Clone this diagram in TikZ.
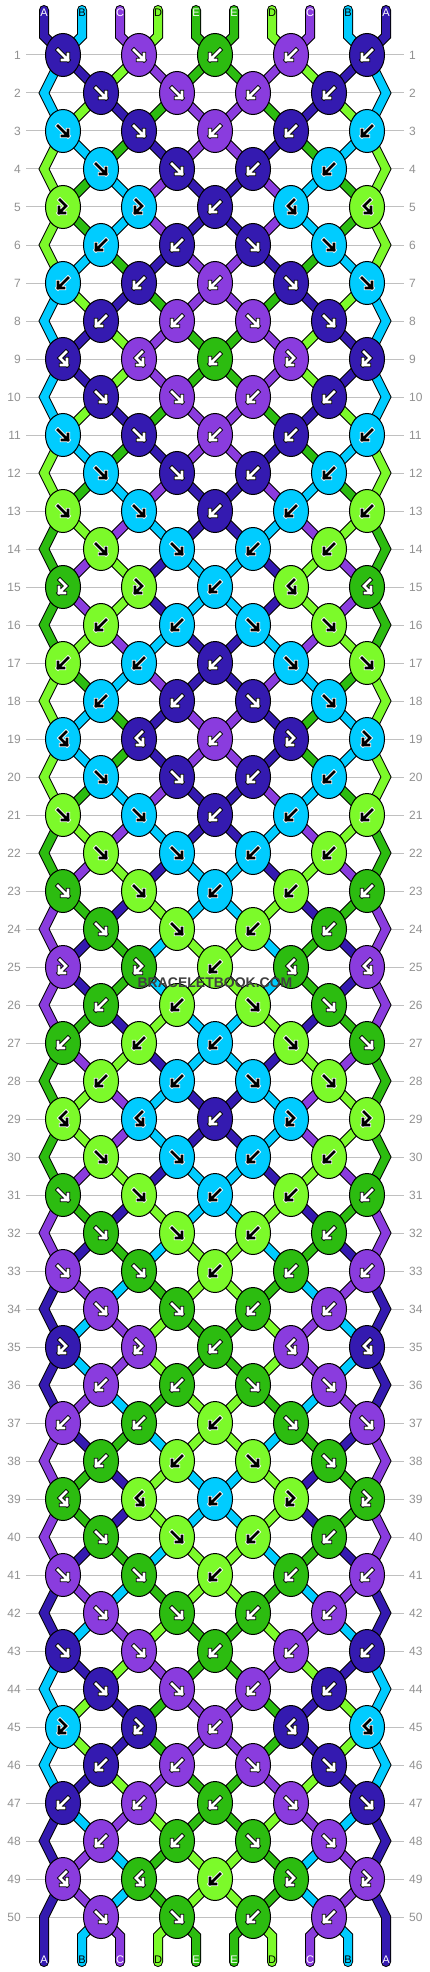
\documentclass[tikz,border=0pt]{standalone}
\usepackage{fontspec}
\setmainfont{Liberation Sans}
\usetikzlibrary{shapes.geometric}
\definecolor{cA}{RGB}{52,26,176}
\definecolor{cB}{RGB}{0,204,255}
\definecolor{cC}{RGB}{138,60,222}
\definecolor{cD}{RGB}{124,250,42}
\definecolor{cE}{RGB}{44,188,16}
\definecolor{gridgray}{RGB}{192,192,192}
\definecolor{numgray}{RGB}{145,145,145}
\definecolor{wmgray}{RGB}{64,64,64}
\pgfdeclarelayer{grid}\pgfdeclarelayer{outl}\pgfdeclarelayer{fill}
\pgfsetlayers{grid,outl,fill,main}
\def\glA{white}\def\glB{black}\def\glC{white}\def\glD{black}\def\glE{white}
\def\goA{black}\def\goB{white}\def\goC{black}\def\goD{white}\def\goE{black}
\def\dt#1#2#3#4#5#6{%
 \expandafter\def\csname kt#1-1\endcsname{#2}%
 \expandafter\def\csname kt#1-2\endcsname{#3}%
 \expandafter\def\csname kt#1-3\endcsname{#4}%
 \expandafter\def\csname kt#1-4\endcsname{#5}%
 \expandafter\def\csname kt#1-5\endcsname{#6}}
\dt{0}{f}{f}{b}{b}{b}
\dt{1}{f}{f}{b}{b}{x}
\dt{2}{f}{f}{b}{b}{b}
\dt{3}{f}{f}{b}{b}{x}
\dt{4}{F}{F}{b}{B}{B}
\dt{5}{b}{b}{f}{f}{x}
\dt{6}{b}{b}{b}{f}{f}
\dt{7}{b}{b}{f}{f}{x}
\dt{8}{B}{B}{b}{F}{F}
\dt{9}{f}{f}{b}{b}{x}
\def\setth#1#2{\expandafter\xdef\csname th#1\endcsname{#2}}
\setth{1}{A}\setth{2}{B}\setth{3}{C}\setth{4}{D}\setth{5}{E}
\setth{6}{E}\setth{7}{D}\setth{8}{C}\setth{9}{B}\setth{10}{A}
\def\gpf#1{\draw[#1] (-5,-5) -- (5,5) (-1,5) -- (5,5) -- (5,-1);}
\def\gpb#1{\draw[#1] (5,-5) -- (-5,5) (1,5) -- (-5,5) -- (-5,-1);}
\def\gpF#1{\draw[#1] (-3,-7) -- (3,-1) -- (-4,6) (2,6) -- (-4,6) -- (-4,0);}
\def\gpB#1{\draw[#1] (3,-7) -- (-3,-1) -- (4,6) (-2,6) -- (4,6) -- (4,0);}
\def\glyph#1#2#3{%
 \csname gp#1\endcsname{line width=4.4pt,color=#3,line cap=rect,line join=miter}%
 \csname gp#1\endcsname{line width=2.6pt,color=#2,line cap=rect,line join=miter}}
\gdef\Aout{}\gdef\Afill{}\gdef\Aknots{}
\def\addthread#1#2{%
 \xdef\Aout{\unexpanded\expandafter{\Aout}\noexpand\draw[thout] #2;}%
 \xdef\Afill{\unexpanded\expandafter{\Afill}\noexpand\draw[thfill,color=c#1] #2;}}
\tikzset{knot/.style={ellipse,draw=black,line width=1pt,minimum width=35pt,minimum height=43pt,inner sep=0pt},
 thout/.style={line width=10pt,black,line cap=round,line join=miter},
 thfill/.style={line width=8pt,line cap=round,line join=miter},
 rownum/.style={text=numgray,font=\fontsize{12}{14}\selectfont,inner sep=0pt},
 endlabel/.style={font=\fontsize{11}{13}\selectfont,inner sep=0pt}}
\begin{document}
\begin{tikzpicture}[x=1pt,y=-1pt]
\useasboundingbox (0,0) rectangle (430,1972);
% background, grid lines and row numbers
\begin{pgfonlayer}{grid}
\fill[white] (0,0) rectangle (430,1972);
\foreach \rw in {1,...,50}{%
 \pgfmathtruncatemacro{\yy}{55+38*(\rw-1)}%
 \draw[gridgray,line width=1pt] (26,\yy) -- (404,\yy);
 \node[rownum,anchor=east] (rl-\rw) at (21,\yy) {\rw};
 \node[rownum,anchor=west] (rr-\rw) at (409,\yy) {\rw};
}
\end{pgfonlayer}
% top ends
\foreach \ii in {1,...,10}{%
 \pgfmathtruncatemacro{\xx}{44+38*(\ii-1)}%
 \coordinate (tt-\ii) at (\xx,10);
 \coordinate (tb-\ii) at (\xx,36);
 \expandafter\xdef\csname pp\ii\endcsname{(tt-\ii) -- (tb-\ii)}%
}
% rows of knots (simulation)
\foreach \rw in {1,...,50}{%
 \pgfmathtruncatemacro{\per}{mod(\rw-1,10)}%
 \pgfmathtruncatemacro{\yy}{55+38*(\rw-1)}%
 \pgfmathtruncatemacro{\off}{mod(\rw,2)}%
 \ifnum\off=1 \gdef\nk{5}\else \gdef\nk{4}%
  \coordinate (eL-\rw) at (44,\yy);%
  \coordinate (eR-\rw) at (386,\yy);%
  \expandafter\xdef\csname pp1\endcsname{\csname pp1\endcsname -- (eL-\rw)}%
  \expandafter\xdef\csname pp10\endcsname{\csname pp10\endcsname -- (eR-\rw)}%
 \fi
 \foreach \kn in {1,...,\nk}{%
  \pgfmathtruncatemacro{\ii}{2*\kn-\off}%
  \pgfmathtruncatemacro{\jj}{\ii+1}%
  \pgfmathtruncatemacro{\xx}{63+38*(\ii-1)}%
  \edef\kt{\csname kt\per-\kn\endcsname}%
  \edef\lc{\csname th\ii\endcsname}%
  \edef\rc{\csname th\jj\endcsname}%
  \edef\kc{\rc}%
  \if\kt f\edef\kc{\lc}\fi
  \if\kt F\edef\kc{\lc}\fi
  \edef\gc{\csname gl\kc\endcsname}%
  \edef\oc{\csname go\kc\endcsname}%
  \xdef\Aknots{\unexpanded\expandafter{\Aknots}%
   \noexpand\node[knot,fill=c\kc] (k-\rw-\kn) at (\xx,\yy) {};%
   \noexpand\begin{scope}[shift={(k-\rw-\kn.center)}]\noexpand\glyph{\kt}{\gc}{\oc}\noexpand\end{scope}}%
  \edef\cmd{\noexpand\addthread{\lc}{\csname pp\ii\endcsname -- (k-\rw-\kn.center)}%
   \noexpand\addthread{\rc}{\csname pp\jj\endcsname -- (k-\rw-\kn.center)}}%
  \cmd
  \expandafter\xdef\csname pp\ii\endcsname{(k-\rw-\kn.center)}%
  \expandafter\xdef\csname pp\jj\endcsname{(k-\rw-\kn.center)}%
  \if\kt f\setth{\ii}{\rc}\setth{\jj}{\lc}\fi
  \if\kt b\setth{\ii}{\rc}\setth{\jj}{\lc}\fi
 }%
}
% bottom ends
\foreach \ii in {1,...,10}{%
 \pgfmathtruncatemacro{\xx}{44+38*(\ii-1)}%
 \coordinate (bb-\ii) at (\xx,1936);
 \coordinate (be-\ii) at (\xx,1962);
 \edef\lc{\csname th\ii\endcsname}%
 \edef\cmd{\noexpand\addthread{\lc}{\csname pp\ii\endcsname -- (bb-\ii) -- (be-\ii)}}%
 \cmd
}
% knots, then threads on lower layers
\Aknots
\begin{pgfonlayer}{outl}\Aout\end{pgfonlayer}
\begin{pgfonlayer}{fill}\Afill\end{pgfonlayer}
% end labels
\foreach \ii in {1,...,10}{%
 \pgfmathtruncatemacro{\xx}{44+38*(\ii-1)}%
 \edef\lc{\csname th\ii\endcsname}%
 \edef\gc{\csname gl\lc\endcsname}%
 \node[endlabel,text=\gc] (lb-\ii) at (\xx,1960) {\lc};
}
\foreach \ii/\lt in {1/A,2/B,3/C,4/D,5/E,6/E,7/D,8/C,9/B,10/A}{%
 \pgfmathtruncatemacro{\xx}{44+38*(\ii-1)}%
 \edef\gc{\csname gl\lt\endcsname}%
 \node[endlabel,text=\gc] (lt-\ii) at (\xx,13) {\lt};
}
\node[font=\bfseries\fontsize{14}{16}\selectfont,text=wmgray,inner sep=0pt] (wm) at (215,983) {BRACELETBOOK.COM};
\end{tikzpicture}
\end{document}
